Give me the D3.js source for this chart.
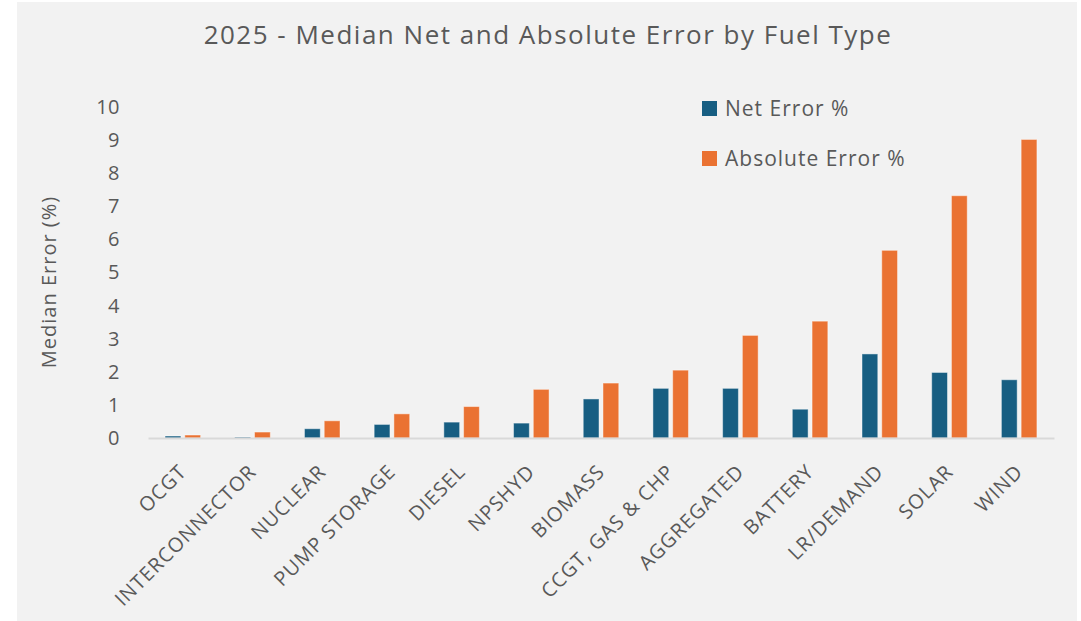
<!DOCTYPE html>
<html>
<head>
<meta charset="utf-8">
<script src="https://cdn.jsdelivr.net/npm/d3@7"></script>
<style>
  body { margin: 0; background: #ffffff; }
  #chart { width: 1081px; height: 621px; }
  text { font-family: "Open Sans", sans-serif; fill: #595959; }
</style>
</head>
<body>
<div id="chart"></div>
<script>
// Data
const fuelTypes = [
  "OCGT", "INTERCONNECTOR", "NUCLEAR", "PUMP STORAGE", "DIESEL", "NPSHYD",
  "BIOMASS", "CCGT, GAS & CHP", "AGGREGATED", "BATTERY", "LR/DEMAND", "SOLAR", "WIND"
];
const netError = [0.06, 0.03, 0.28, 0.41, 0.48, 0.45, 1.18, 1.5, 1.5, 0.87, 2.54, 1.98, 1.76];
const absError = [0.09, 0.18, 0.52, 0.73, 0.95, 1.47, 1.66, 2.05, 3.1, 3.53, 5.67, 7.32, 9.02];
const seriesNames = ["Net Error %", "Absolute Error %"];
const seriesColors = ["#175e82", "#ea7232"];
const yTicks = [0, 1, 2, 3, 4, 5, 6, 7, 8, 9, 10];

class FuelErrorChart {
  constructor(_config, _data) {
    this.config = {
      parentElement: _config.parentElement,
      containerWidth: _config.containerWidth || 1081,
      containerHeight: _config.containerHeight || 621,
      margin: { top: 107, right: 27, bottom: 183, left: 148 },
    };
    this.data = _data;
    this.initVis();
  }

  initVis() {
    let vis = this;

    vis.config.width =
      vis.config.containerWidth - vis.config.margin.left - vis.config.margin.right;
    vis.config.height =
      vis.config.containerHeight - vis.config.margin.top - vis.config.margin.bottom;

    vis.svg = d3
      .select(vis.config.parentElement)
      .append("svg")
      .attr("width", vis.config.containerWidth)
      .attr("height", vis.config.containerHeight);

    // grey panel
    vis.svg
      .append("rect")
      .attr("x", 17)
      .attr("y", 2)
      .attr("width", 1060)
      .attr("height", 619)
      .attr("fill", "#f2f2f2");

    vis.chart = vis.svg
      .append("g")
      .attr("transform", `translate(${vis.config.margin.left},${vis.config.margin.top})`);

    // Initialize scales
    vis.x0 = d3
      .scaleBand()
      .domain(fuelTypes)
      .range([0, vis.config.width])
      .paddingInner(0.49)
      .paddingOuter(0.245);
    vis.x1 = d3
      .scaleBand()
      .domain(seriesNames)
      .range([0, vis.x0.bandwidth()])
      .paddingInner(0.2);
    vis.y = d3.scaleLinear().domain([0, 10]).range([vis.config.height, 0]);
    vis.color = d3.scaleOrdinal().domain(seriesNames).range(seriesColors);

    vis.svg
      .append("text")
      .attr("x", 548)
      .attr("y", 44)
      .attr("text-anchor", "middle")
      .style("font-size", "26px")
      .style("letter-spacing", "1.5px")
      .text("2025 - Median Net and Absolute Error by Fuel Type");

    vis.svg
      .append("text")
      .attr("transform", "translate(56,282) rotate(-90)")
      .attr("text-anchor", "middle")
      .style("font-size", "20px")
      .style("letter-spacing", "1px")
      .text("Median Error (%)");

    vis.renderVis();
  }

  renderVis() {
    let vis = this;

    // y axis (labels only)
    const yAxis = d3.axisLeft(vis.y).tickValues(yTicks).tickSize(0).tickPadding(28);
    const yg = vis.chart.append("g").call(yAxis);
    yg.select(".domain").remove();
    yg.selectAll("text")
      .style("font-size", "20px")
      .style("font-family", "'Open Sans', sans-serif")
      .style("letter-spacing", "0.5px")
      .attr("fill", "#595959");

    // bars
    const groups = vis.chart
      .selectAll(".group")
      .data(vis.data)
      .join("g")
      .attr("class", "group")
      .attr("transform", (d) => `translate(${vis.x0(d.name)},0)`);

    groups
      .selectAll("rect")
      .data((d) => seriesNames.map((s, i) => ({ key: s, value: d.values[i] })))
      .join("rect")
      .attr("x", (d) => vis.x1(d.key))
      .attr("y", (d) => vis.y(d.value))
      .attr("width", vis.x1.bandwidth())
      .attr("height", (d) => vis.y(0) - vis.y(d.value))
      .attr("fill", (d) => vis.color(d.key))
      .attr("stroke", "#ffffff")
      .attr("stroke-opacity", 0.45)
      .attr("stroke-width", 1);

    // x axis
    const xAxis = d3.axisBottom(vis.x0).tickSize(0).tickPadding(0);
    const xg = vis.chart
      .append("g")
      .attr("transform", `translate(0,${vis.config.height})`)
      .call(xAxis);
    xg.select(".domain").attr("stroke", "#d9d9d9").attr("stroke-width", 2);
    xg.selectAll("text")
      .style("font-size", "20px")
      .style("letter-spacing", "1px")
      .style("font-family", "'Open Sans', sans-serif")
      .attr("fill", "#595959")
      .attr("text-anchor", "end")
      .attr("dy", 0)
      .attr("y", 0)
      .attr("transform", "translate(5,35) rotate(-45)");

    // legend
    const legend = vis.svg
      .append("g")
      .selectAll("g")
      .data(seriesNames)
      .join("g")
      .attr("transform", (d, i) => `translate(702,${101 + i * 50})`);
    legend
      .append("rect")
      .attr("width", 15)
      .attr("height", 15)
      .attr("fill", (d) => vis.color(d));
    legend
      .append("text")
      .attr("x", 23)
      .attr("y", 15)
      .style("font-size", "21px")
      .style("letter-spacing", "1px")
      .text((d) => d);
  }
}

const chartData = fuelTypes.map((f, i) => ({ name: f, values: [netError[i], absError[i]] }));
new FuelErrorChart({ parentElement: "#chart" }, chartData);
</script>
</body>
</html>
